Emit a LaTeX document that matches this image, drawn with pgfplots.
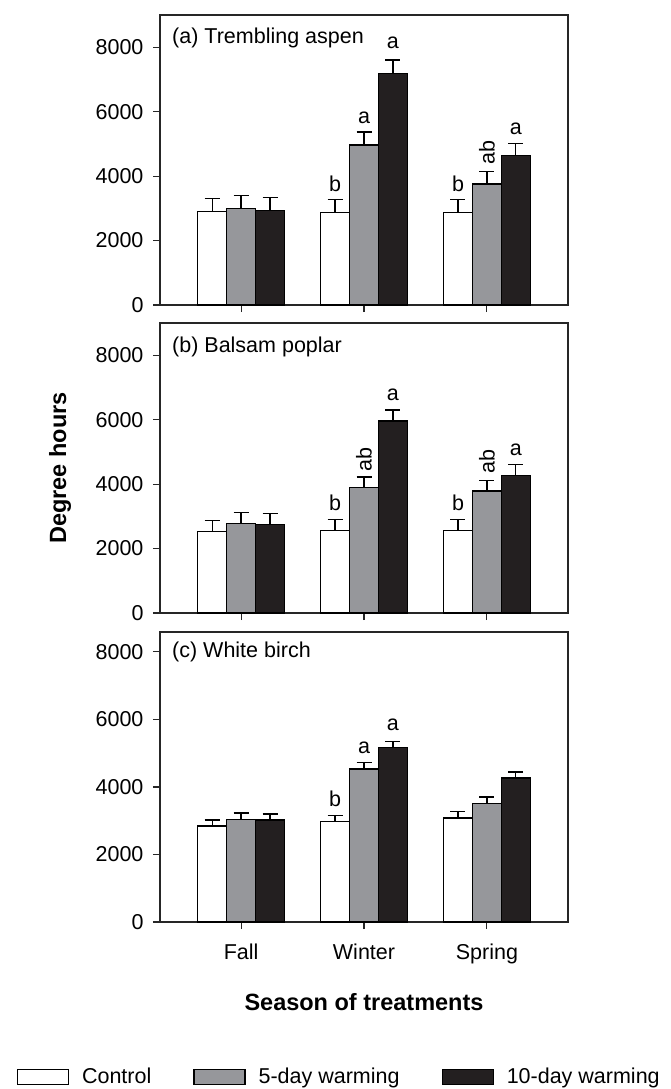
\documentclass[border=0pt]{standalone}
\usepackage{fontspec}
\setmainfont{Liberation Sans}
\usepackage{pgfplots}
\pgfplotsset{compat=1.18}
\definecolor{midgray}{RGB}{150,151,155}
\definecolor{nearblack}{RGB}{35,31,32}
\newcommand\fs{\fontsize{21.5}{25}\selectfont}
\newcommand\fb{\fontsize{23.5}{27}\selectfont\bfseries}

\pgfplotsset{
  panel/.style={
    scale only axis, width=408pt, height=290pt,
    xmin=-0.66, xmax=2.66, ymin=0,
    ybar, bar width=28.9pt,
    xtick={0,1,2}, ytick={0,2000,4000,6000,8000},
    xtick pos=bottom, ytick pos=left,
    tick align=outside, major tick length=7pt,
    axis line style={line width=1.1pt, black!85},
    tick style={line width=1.1pt, black!85},
    /pgf/number format/1000 sep={},
    /pgf/number format/assume math mode=true,
    tick label style={font=\fs},
    yticklabel style={xshift=-6pt},
    xticklabel style={yshift=-11pt},
    error bars/y dir=plus, error bars/y explicit,
    error bars/error bar style={line width=1.4pt, black},
    error bars/error mark options={rotate=90, mark size=7.5pt, line width=1.4pt, black},
    legend image code/.code={\draw[#1, line width=1.2pt] (0pt,-7.5pt) rectangle (51pt,7.5pt);},
  },
  ctl/.style={fill=white, draw=black, line width=1.4pt, bar shift=-28.9pt},
  five/.style={fill=midgray, draw=black, line width=1.4pt, bar shift=0pt},
  ten/.style={fill=nearblack, draw=black, line width=1.4pt, bar shift=28.9pt},
}

\begin{document}
\begin{tikzpicture}
% ---------- (a) ----------
\begin{axis}[panel, at={(160pt,-15pt)}, anchor=north west, ymax=9000,
  xticklabels={}]
\addplot[ctl] coordinates {(0,2910) +- (0,400) (1,2870) +- (0,400) (2,2870) +- (0,410)};
\addplot[five] coordinates {(0,2990) +- (0,400) (1,4970) +- (0,400) (2,3760) +- (0,390)};
\addplot[ten] coordinates {(0,2940) +- (0,400) (1,7180) +- (0,420) (2,4640) +- (0,380)};
\node[anchor=west, inner sep=0pt, font=\fs] at ([xshift=12pt,yshift=-23pt]rel axis cs:0,1) {(a) Trembling aspen};
\node[font=\fs] at (axis cs:0.765,3772) {b};
\node[font=\fs] at (axis cs:1,5824) {a};
\node[font=\fs] at (axis cs:1.235,8135) {a};
\node[font=\fs] at (axis cs:1.765,3772) {b};
\node[font=\fs, rotate=90] at (axis cs:2,4736) {ab};
\node[font=\fs] at (axis cs:2.235,5461) {a};
\end{axis}
% ---------- (b) ----------
\begin{axis}[panel, at={(160pt,-323pt)}, anchor=north west, ymax=9000,
  xticklabels={},
  ylabel={Degree hours},
  ylabel style={font=\fb, at={(axis description cs:-0.245,0.5)}, anchor=center, rotate=0}]
\addplot[ctl] coordinates {(0,2536) +- (0,342) (1,2567) +- (0,342) (2,2567) +- (0,342)};
\addplot[five] coordinates {(0,2774) +- (0,352) (1,3892) +- (0,332) (2,3789) +- (0,331)};
\addplot[ten] coordinates {(0,2743) +- (0,342) (1,5963) +- (0,341) (2,4275) +- (0,342)};
\node[anchor=west, inner sep=0pt, font=\fs] at ([xshift=12pt,yshift=-24pt]rel axis cs:0,1) {(b) Balsam poplar};
\node[font=\fs] at (axis cs:0.765,3406) {b};
\node[font=\fs, rotate=90] at (axis cs:1,4762) {ab};
\node[font=\fs] at (axis cs:1.235,6781) {a};
\node[font=\fs] at (axis cs:1.765,3406) {b};
\node[font=\fs, rotate=90] at (axis cs:2,4689) {ab};
\node[font=\fs] at (axis cs:2.235,5072) {a};
\end{axis}
% ---------- (c) ----------
\begin{axis}[panel, at={(160pt,-632pt)}, anchor=north west, ymax=8590,
  xticklabels={Fall,Winter,Spring},
  xlabel={Season of treatments},
  xlabel style={font=\fb, at={(axis description cs:0.5,-0.276)}, anchor=center},
  legend columns=3,
  legend style={at={(axis description cs:0.437,-0.534)}, anchor=center, draw=none, fill=none,
    font=\fs, nodes={inner sep=0pt},
    /tikz/every even column/.append style={column sep=42pt},
    /tikz/every odd column/.append style={column sep=13pt}}]
\addplot[ctl] coordinates {(0,2844) +- (0,178) (1,2973) +- (0,178) (2,3081) +- (0,188)};
\addplot[five] coordinates {(0,3032) +- (0,198) (1,4533) +- (0,188) (2,3516) +- (0,188)};
\addplot[ten] coordinates {(0,3022) +- (0,178) (1,5165) +- (0,178) (2,4267) +- (0,177)};
\legend{Control,5-day warming,10-day warming}
\node[anchor=west, inner sep=0pt, font=\fs] at ([xshift=12pt,yshift=-20pt]rel axis cs:0,1) {(c) White birch};
\node[font=\fs] at (axis cs:0.765,3654) {b};
\node[font=\fs] at (axis cs:1,5165) {a};
\node[font=\fs] at (axis cs:1.235,5847) {a};
\end{axis}
\pgfresetboundingbox
\path[use as bounding box] (0pt,0pt) rectangle (670pt,-1089pt);
\end{tikzpicture}
\end{document}
